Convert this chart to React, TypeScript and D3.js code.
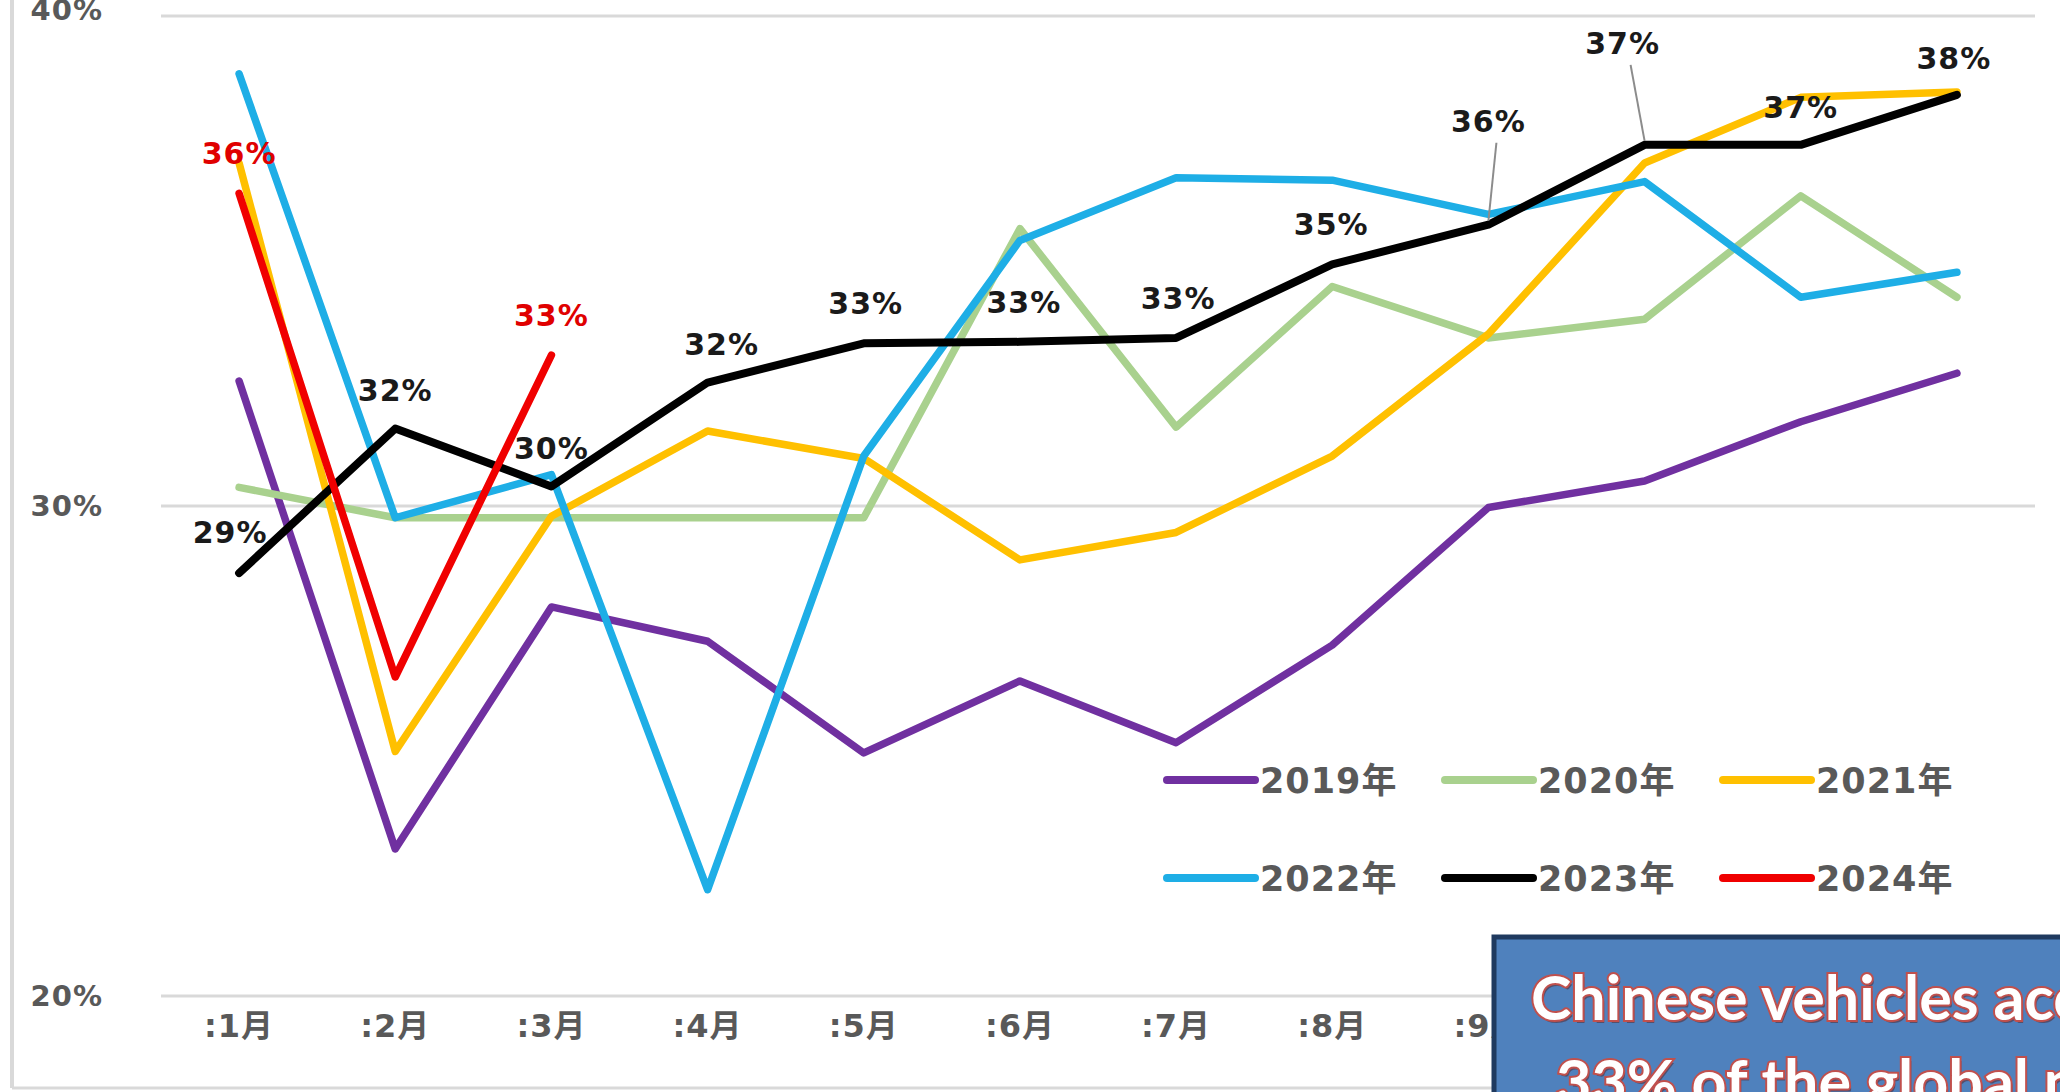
import { useEffect, useRef } from "react";
import * as d3 from "d3";

const W = 2060;
const H = 1092;

const months = [":1月", ":2月", ":3月", ":4月", ":5月", ":6月", ":7月", ":8月", ":9月", ":10月", ":11月", ":12月"];
const years = ["2019年", "2020年", "2021年", "2022年", "2023年", "2024年"];
const yTicks = [20, 30, 40];

// share of the global market, %
const s2019 = [32.55, 23.0, 27.94, 27.24, 24.96, 26.43, 25.17, 27.16, 29.97, 30.51, 31.72, 32.71];
const s2020 = [30.38, 29.76, 29.76, 29.76, 29.76, 35.66, 31.61, 34.48, 33.43, 33.81, 36.33, 34.26];
const s2021 = [37.0, 24.99, 29.79, 31.53, 30.97, 28.9, 29.46, 31.02, 33.51, 37.0, 38.34, 38.45];
const s2022 = [38.82, 29.76, 30.64, 22.17, 31.02, 35.42, 36.7, 36.65, 35.95, 36.62, 34.26, 34.77];
const s2023 = [28.63, 31.58, 30.4, 32.52, 33.32, 33.35, 33.43, 34.93, 35.74, 37.37, 37.37, 38.39];
const s2024 = [36.38, 26.51, 33.08];

const labels2023 = ["29%", "32%", "30%", "32%", "33%", "33%", "33%", "35%", "36%", "37%", "37%", "38%"];
const labels2024 = ["36%", "", "33%"];

const colors = ["#7030a0", "#a9d18e", "#ffc000", "#1eaee6", "#000000", "#f00000"];
const allSeries = [s2019, s2020, s2021, s2022, s2023, s2024];

// label nudges [dx, dy, leader]
const nudge2023: [number, number, boolean][] = [
  [-9, -41, false], [0, -38, false], [0, -38, false], [14, -38, false],
  [2, -40, false], [4, -40, false], [2, -40, false], [-1, -40, false],
  [0, -104, true], [-22, -102, true], [0, -38, false], [-3, -37, false],
];

const FONT = "'DejaVu Sans', 'Noto Sans CJK SC', sans-serif";

function App() {
  const svgRef = useRef<SVGSVGElement | null>(null);

  useEffect(() => {
    const svg: any = d3.select(svgRef.current);
    svg.selectAll("*").remove();

    const x = d3.scaleBand().domain(months).range([161, 2035]);
    const cx = (i: number) => (x(months[i]) as number) + x.bandwidth() / 2;
    const y = d3.scaleLinear().domain([20, 40]).range([996, 16]);

    // frame
    svg.append("line").attr("x1", 12).attr("x2", 12).attr("y1", 0).attr("y2", 1088)
      .attr("stroke", "#d9d9d9").attr("stroke-width", 4);
    svg.append("line").attr("x1", 12).attr("x2", W).attr("y1", 1088).attr("y2", 1088)
      .attr("stroke", "#d9d9d9").attr("stroke-width", 3);

    // grid + y labels
    const g = svg.append("g");
    g.selectAll(".grid").data(yTicks).enter().append("line")
      .attr("x1", 161).attr("x2", 2035)
      .attr("y1", (d: number) => y(d)).attr("y2", (d: number) => y(d))
      .attr("stroke", "#d9d9d9").attr("stroke-width", 3);
    g.selectAll(".ylab").data(yTicks).enter().append("text")
      .attr("x", 103).attr("y", (d: number) => y(d) - (d === 40 ? 6 : 0)).attr("dy", "0.36em")
      .attr("text-anchor", "end")
      .style("font-family", FONT).style("font-size", "29px").style("font-weight", "600")
      .style("letter-spacing", "1px").style("fill", "#595959")
      .text((d: number) => d + "%");

    // x labels
    g.selectAll(".xlab").data(months).enter().append("text")
      .attr("x", (_: string, i: number) => cx(i)).attr("y", 1037)
      .attr("text-anchor", "middle")
      .style("font-family", FONT).style("font-size", "32px").style("font-weight", "bold")
      .style("letter-spacing", "1px").style("fill", "#595959")
      .text((d: string) => d);

    // lines
    const line = d3.line<number>().x((_, i) => cx(i)).y((d) => y(d));
    allSeries.forEach((s, k) => {
      svg.append("path").attr("d", line(s)).attr("fill", "none")
        .attr("stroke", colors[k]).attr("stroke-width", k === 4 ? 8 : 7.5)
        .attr("stroke-linejoin", "round").attr("stroke-linecap", "round");
    });

    // 2023 labels
    const lab = svg.append("g");
    s2023.forEach((v, i) => {
      const [dx, dy, leader] = nudge2023[i];
      const px = cx(i);
      const py = y(v);
      if (leader) {
        lab.append("line").attr("x1", px + dx + 8).attr("y1", py + dy + 22)
          .attr("x2", px).attr("y2", py - 4)
          .attr("stroke", "#8c8c8c").attr("stroke-width", 2);
      }
      lab.append("text").attr("x", px + dx).attr("y", py + dy).attr("dy", "0.36em")
        .attr("text-anchor", "middle")
        .style("font-family", FONT).style("font-size", "30px").style("font-weight", "bold")
        .style("letter-spacing", "1px").style("fill", "#1a1a1a")
        .text(labels2023[i]);
    });
    s2024.forEach((v, i) => {
      if (!labels2024[i]) return;
      lab.append("text").attr("x", cx(i)).attr("y", y(v) - 40).attr("dy", "0.36em")
        .attr("text-anchor", "middle")
        .style("font-family", FONT).style("font-size", "30px").style("font-weight", "bold")
        .style("letter-spacing", "1px").style("fill", "#e00000")
        .text(labels2024[i]);
    });

    // legend
    const leg = svg.append("g");
    years.forEach((yr, k) => {
      const lx = 1167 + (k % 3) * 278;
      const ly = k < 3 ? 780 : 878;
      leg.append("line").attr("x1", lx).attr("x2", lx + 88).attr("y1", ly).attr("y2", ly)
        .attr("stroke", colors[k]).attr("stroke-width", 8).attr("stroke-linecap", "round");
      leg.append("text").attr("x", lx + 93).attr("y", ly).attr("dy", "0.36em")
        .style("font-family", FONT).style("font-size", "35px").style("font-weight", "bold")
        .style("letter-spacing", "1px").style("fill", "#595959")
        .text(yr);
    });

    // callout box
    const box = svg.append("g");
    box.append("rect").attr("x", 1494).attr("y", 937).attr("width", 700).attr("height", 300)
      .attr("fill", "#4f81bd").attr("stroke", "#1f3a5f").attr("stroke-width", 5);
    const lines = [
      { t: "Chinese vehicles accounted for", x: 1531, y: 1020 },
      { t: "33% of the global market", x: 1556, y: 1104 },
    ];
    const calloutFont = "Lato, 'Open Sans', sans-serif";
    lines.forEach((l) => {
      box.append("text").attr("x", l.x + 2).attr("y", l.y + 3)
        .style("font-family", calloutFont)
        .style("font-size", "61px").style("font-weight", "bold")
        .style("fill", "#5a1e1e").style("opacity", 0.5).text(l.t);
      box.append("text").attr("x", l.x).attr("y", l.y)
        .style("font-family", calloutFont)
        .style("font-size", "61px").style("font-weight", "bold")
        .style("fill", "#ffffff").style("stroke", "#c0504d").style("stroke-width", 4)
        .style("paint-order", "stroke").text(l.t);
    });
  }, []);

  return (
    <svg ref={svgRef} width={W} height={H}
      style={{ position: "absolute", left: 0, top: 0, background: "#ffffff" }} />
  );
}

export default App;
